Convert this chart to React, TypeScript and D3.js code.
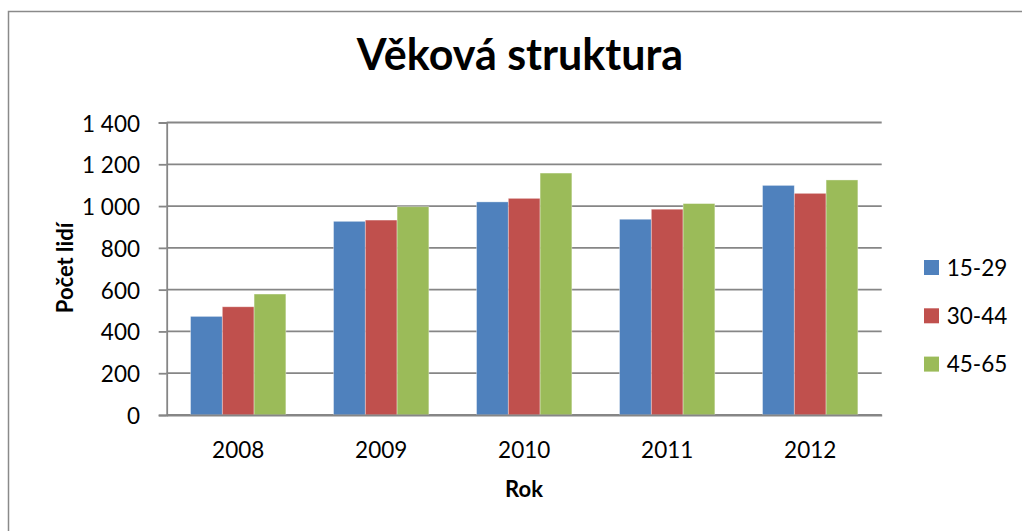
import React, { useEffect, useRef } from "react";
import * as d3 from "d3";

const years = ["2008", "2009", "2010", "2011", "2012"];
const seriesNames = ["15-29", "30-44", "45-65"];
const values1529 = [472, 927, 1020, 937, 1099];
const values3044 = [518, 933, 1037, 985, 1061];
const values4565 = [579, 997, 1158, 1012, 1125];
const yTicks = [0, 200, 400, 600, 800, 1000, 1200, 1400];
const colors = ["#4F81BD", "#C0504D", "#9BBB59"];

const FONT = "Lato, 'Open Sans', sans-serif";
const GRID = "#868686";

const App = () => {
  const svgRef = useRef<SVGSVGElement>(null);

  useEffect(() => {
    const svg = d3.select(svgRef.current);
    svg.selectAll("*").remove();

    const width = 1022;
    const height = 531;
    const margin = { top: 122.5, right: 140.3, bottom: 116, left: 166.7 };
    const plotW = width - margin.left - margin.right;
    const plotH = height - margin.top - margin.bottom;

    // outer chart border (right and bottom edges fall outside the picture)
    svg
      .append("rect")
      .attr("x", 8.5)
      .attr("y", 11.5)
      .attr("width", width + 20)
      .attr("height", height + 20)
      .attr("fill", "white")
      .attr("stroke", "#8a8a8a")
      .attr("stroke-width", 1.5);

    // title
    svg
      .append("text")
      .attr("x", 520)
      .attr("y", 70)
      .attr("text-anchor", "middle")
      .style("font-family", FONT)
      .style("font-weight", "bold")
      .style("font-size", "43px")
      .style("fill", "#000")
      .text("Věková struktura");

    const g = svg
      .append("g")
      .attr("transform", `translate(${margin.left},${margin.top})`);

    const y = d3.scaleLinear().domain([0, 1400]).range([plotH, 0]);

    const x0 = d3
      .scaleBand()
      .domain(years)
      .range([0, plotW])
      .paddingInner(1 / 3)
      .paddingOuter(1 / 6);

    const x1 = d3
      .scaleBand()
      .domain(seriesNames)
      .range([0, x0.bandwidth()]);

    // horizontal gridlines
    g.append("g")
      .selectAll("line")
      .data(yTicks)
      .enter()
      .append("line")
      .attr("x1", 0)
      .attr("x2", plotW)
      .attr("y1", (d) => y(d))
      .attr("y2", (d) => y(d))
      .attr("stroke", GRID)
      .attr("stroke-width", 1.8);

    // bars
    const allSeries = [values1529, values3044, values4565];
    allSeries.forEach((vals, si) => {
      g.append("g")
        .selectAll("rect")
        .data(vals)
        .enter()
        .append("rect")
        .attr("x", (d, i) => (x0(years[i]) as number) + (x1(seriesNames[si]) as number))
        .attr("y", (d) => y(d))
        .attr("width", x1.bandwidth())
        .attr("height", (d) => plotH - y(d))
        .attr("fill", colors[si])
        .attr("stroke", "rgba(255,255,255,0.45)")
        .attr("stroke-width", 0.8);
    });

    const fmt = d3.formatLocale({
      decimal: ",",
      thousands: " ",
      grouping: [3],
      currency: ["", " Kč"],
    }).format(",d");

    // y axis
    const yAxis = g
      .append("g")
      .call(
        d3
          .axisLeft(y)
          .tickValues(yTicks)
          .tickSize(8)
          .tickPadding(18.7)
          .tickFormat((d) => fmt(d as number))
      );
    yAxis.select(".domain").attr("stroke", GRID).attr("stroke-width", 1.8);
    yAxis.selectAll(".tick line").attr("stroke", GRID).attr("stroke-width", 1.8);
    yAxis
      .selectAll(".tick text")
      .attr("dy", "0.38em")
      .style("font-family", FONT)
      .style("font-size", "22.5px")
      .style("fill", "#000");

    // x axis
    const xAxis = g
      .append("g")
      .attr("transform", `translate(0,${plotH})`)
      .call(d3.axisBottom(x0).tickSize(0).tickPadding(0));
    xAxis.select(".domain").attr("stroke", GRID).attr("stroke-width", 1.8);
    xAxis
      .selectAll(".tick text")
      .attr("y", 43.3)
      .attr("dy", 0)
      .style("font-family", FONT)
      .style("font-size", "22.5px")
      .style("fill", "#000");

    // axis titles
    svg
      .append("text")
      .attr("x", 524)
      .attr("y", 497.3)
      .attr("text-anchor", "middle")
      .style("font-family", FONT)
      .style("font-weight", "bold")
      .style("font-size", "22px")
      .text("Rok");

    svg
      .append("text")
      .attr("transform", "translate(72.5,268) rotate(-90)")
      .attr("text-anchor", "middle")
      .style("font-family", FONT)
      .style("font-weight", "bold")
      .style("font-size", "22px")
      .text("Počet lidí");

    // legend
    const legend = svg.append("g").attr("transform", "translate(924,260)");
    seriesNames.forEach((name, i) => {
      const row = legend.append("g").attr("transform", `translate(0,${i * 48.3})`);
      row
        .append("rect")
        .attr("width", 15)
        .attr("height", 15)
        .attr("fill", colors[i]);
      row
        .append("text")
        .attr("x", 22.7)
        .attr("y", 15.7)
        .style("font-family", FONT)
        .style("font-size", "22.5px")
        .style("fill", "#000")
        .text(name);
    });
  }, []);

  return (
    <div style={{ position: "absolute", left: 0, top: 0, width: 1022, height: 531 }}>
      <svg ref={svgRef} width={1022} height={531} style={{ display: "block" }}></svg>
    </div>
  );
};

export default App;
